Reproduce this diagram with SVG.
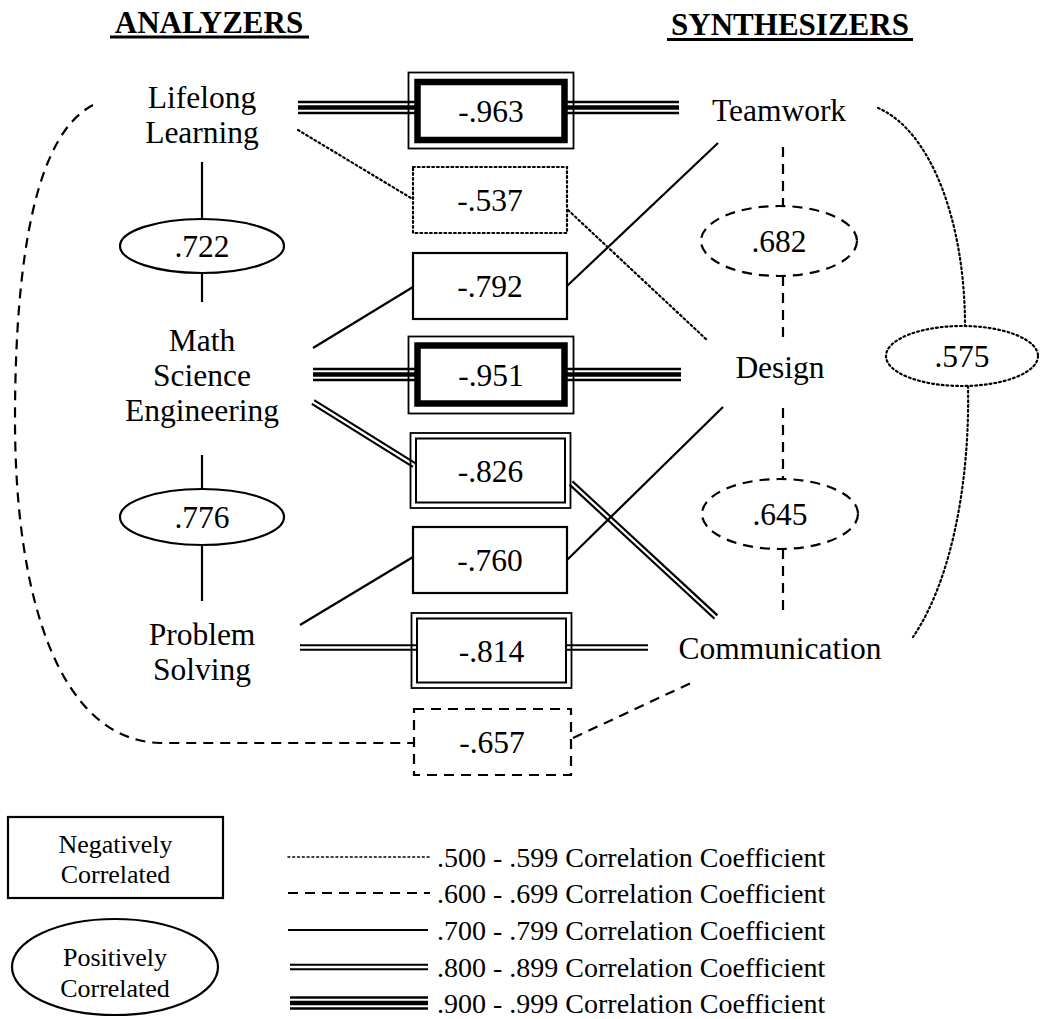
<svg xmlns="http://www.w3.org/2000/svg" width="1040" height="1019" viewBox="0 0 1040 1019">
<style>
text{font-family:"Liberation Serif","Times New Roman",serif;fill:#000}
.lab{font-size:31.5px;text-anchor:middle}
.hdr{font-size:31px;font-weight:bold;text-anchor:middle}
.leg{font-size:28px}
.legc{font-size:26px;text-anchor:middle}
.solid{stroke:#000;stroke-width:2.2;fill:none}
.dash{stroke:#000;stroke-width:2.2;fill:none;stroke-dasharray:10 7}
.dot{stroke:#000;stroke-width:2.2;fill:none;stroke-dasharray:1.8 3;stroke-linecap:round}
.thin{stroke:#000;stroke-width:2.5}
.thick{stroke:#000;stroke-width:4.5}
.dblB{stroke:#000;stroke-width:6.5;fill:none}
.dblW{stroke:#fff;stroke-width:2.3;fill:none}
.box{fill:#fff;stroke:#000;stroke-width:2.2}
.frame{fill:none;stroke:#000;stroke-width:1.8}
.heavy{fill:#fff;stroke:#000;stroke-width:6.5}
.dboxi{fill:#fff;stroke:#000;stroke-width:2}
.pos{fill:#fff;stroke:#000;stroke-width:2.2}
</style>

<g id="headers">
<text class="hdr" x="209" y="33">ANALYZERS</text>
<rect x="110" y="35.5" width="199" height="3"/>
<text class="hdr" x="790" y="35">SYNTHESIZERS</text>
<rect x="667" y="38" width="246" height="3"/>
</g>

<g id="connectors">
<line class="solid" x1="202" y1="162" x2="202" y2="219"/>
<line class="solid" x1="202" y1="273" x2="202" y2="302"/>
<line class="solid" x1="202" y1="455" x2="202" y2="489"/>
<line class="solid" x1="202" y1="545" x2="202" y2="601"/>
<line class="dash" x1="783" y1="147" x2="783" y2="206"/>
<line class="dash" x1="783" y1="276" x2="783" y2="342"/>
<line class="dash" x1="783" y1="408" x2="783" y2="479"/>
<line class="dash" x1="783" y1="549" x2="783" y2="617"/>
<path class="dot" d="M878,108 C930,130 965,220 965,326"/>
<path class="dot" d="M968,386 C970,480 952,580 913,637"/>
<line class="thin" x1="298" y1="102" x2="416" y2="102"/>
<line class="thick" x1="298" y1="107.5" x2="416" y2="107.5"/>
<line class="thin" x1="298" y1="113" x2="416" y2="113"/>
<line class="thin" x1="566" y1="102" x2="679" y2="102"/>
<line class="thick" x1="566" y1="107.5" x2="679" y2="107.5"/>
<line class="thin" x1="566" y1="113" x2="679" y2="113"/>
<line class="dot" x1="298" y1="130" x2="411" y2="198"/>
<line class="dot" x1="568" y1="210" x2="707" y2="340"/>
<line class="solid" x1="313" y1="348" x2="413" y2="287"/>
<line class="solid" x1="567" y1="286" x2="718" y2="143"/>
<line class="thin" x1="313" y1="369" x2="416" y2="369"/>
<line class="thick" x1="313" y1="374.5" x2="416" y2="374.5"/>
<line class="thin" x1="313" y1="380" x2="416" y2="380"/>
<line class="thin" x1="566" y1="369" x2="681" y2="369"/>
<line class="thick" x1="566" y1="374.5" x2="681" y2="374.5"/>
<line class="thin" x1="566" y1="380" x2="681" y2="380"/>
<line class="dblB" x1="313" y1="402" x2="414" y2="465"/>
<line class="dblW" x1="311" y1="400.8" x2="414" y2="465"/>
<line class="dblB" x1="571" y1="483" x2="716" y2="617"/>
<line class="dblW" x1="570" y1="482" x2="718" y2="619"/>
<line class="solid" x1="300" y1="625" x2="413" y2="557"/>
<line class="solid" x1="567" y1="560" x2="723" y2="407"/>
<line class="dblB" x1="300" y1="647.5" x2="416" y2="647.5"/>
<line class="dblW" x1="298" y1="647.5" x2="416" y2="647.5"/>
<line class="dblB" x1="567" y1="647.5" x2="648" y2="647.5"/>
<line class="dblW" x1="567" y1="647.5" x2="650" y2="647.5"/>
<path class="dash" d="M93,105 C35,135 15,260 15,420 C15,600 60,740 160,743 L414,743"/>
<line class="dash" x1="573" y1="738" x2="693" y2="682"/>
</g>

<g id="n-lifelong"><text class="lab" x="202" y="108">Lifelong</text><text class="lab" x="202" y="143">Learning</text></g>
<g id="n-mse"><text class="lab" x="202" y="351">Math</text><text class="lab" x="202" y="386">Science</text><text class="lab" x="202" y="421">Engineering</text></g>
<g id="n-problem"><text class="lab" x="202" y="645">Problem</text><text class="lab" x="202" y="680">Solving</text></g>
<g id="n-teamwork"><text class="lab" x="779" y="121">Teamwork</text></g>
<g id="n-design"><text class="lab" x="780" y="378">Design</text></g>
<g id="n-communication"><text class="lab" x="780" y="659">Communication</text></g>

<g id="p722"><ellipse class="pos" cx="202" cy="246" rx="82" ry="27"/><text class="lab" x="202" y="257">.722</text></g>
<g id="p776"><ellipse class="pos" cx="202" cy="517" rx="82" ry="28"/><text class="lab" x="202" y="528">.776</text></g>
<g id="p682"><ellipse class="pos dash" style="fill:#fff" cx="779" cy="241" rx="78" ry="35"/><text class="lab" x="779" y="252">.682</text></g>
<g id="p645"><ellipse class="pos dash" style="fill:#fff" cx="780" cy="514" rx="78" ry="35"/><text class="lab" x="780" y="525">.645</text></g>
<g id="p575"><ellipse class="pos dot" style="fill:#fff" cx="962" cy="356" rx="76" ry="30"/><text class="lab" x="962" y="367">.575</text></g>

<g id="n963"><rect class="frame" x="408.5" y="72.5" width="165" height="76"/><rect class="heavy" x="417.5" y="82" width="147" height="58"/><text class="lab" x="491" y="121.5">-.963</text></g>
<g id="n537"><rect class="box dot" style="fill:#fff" x="413" y="167" width="154" height="66"/><text class="lab" x="490" y="211">-.537</text></g>
<g id="n792"><rect class="box" x="413" y="253" width="154" height="66"/><text class="lab" x="490" y="297">-.792</text></g>
<g id="n951"><rect class="frame" x="408.5" y="336.5" width="165" height="77"/><rect class="heavy" x="417.5" y="345.5" width="147" height="58"/><text class="lab" x="491" y="386">-.951</text></g>
<g id="n826"><rect class="frame" x="410.5" y="433" width="160" height="75"/><rect class="dboxi" x="416" y="438.5" width="149" height="64"/><text class="lab" x="490.5" y="481.5">-.826</text></g>
<g id="n760"><rect class="box" x="413" y="527" width="154" height="66"/><text class="lab" x="490" y="571">-.760</text></g>
<g id="n814"><rect class="frame" x="411.5" y="613" width="160" height="75"/><rect class="dboxi" x="417" y="618.5" width="149" height="64"/><text class="lab" x="491.5" y="661.5">-.814</text></g>
<g id="n657"><rect class="box dash" style="fill:#fff" x="414" y="709" width="157" height="66"/><text class="lab" x="492" y="753">-.657</text></g>

<g id="legend">
<rect class="box" x="8" y="817" width="215" height="81"/>
<text class="legc" x="115.5" y="853">Negatively</text>
<text class="legc" x="115.5" y="883">Correlated</text>
<ellipse class="pos" cx="115" cy="967" rx="103" ry="48"/>
<text class="legc" x="115" y="966">Positively</text>
<text class="legc" x="115" y="997">Correlated</text>
<line class="dot" x1="288" y1="857" x2="430" y2="857" style="stroke-width:1.6"/>
<line class="dash" x1="288" y1="893" x2="430" y2="893"/>
<line class="solid" x1="288" y1="930" x2="428" y2="930"/>
<line class="dblB" x1="290" y1="967" x2="428" y2="967"/>
<line class="dblW" x1="288" y1="967" x2="430" y2="967"/>
<line class="thin" x1="290" y1="997.5" x2="428" y2="997.5"/>
<line class="thick" x1="290" y1="1003" x2="428" y2="1003"/>
<line class="thin" x1="290" y1="1008.5" x2="428" y2="1008.5"/>
<text class="leg" x="437" y="867">.500 - .599 Correlation Coefficient</text>
<text class="leg" x="437" y="903">.600 - .699 Correlation Coefficient</text>
<text class="leg" x="437" y="940">.700 - .799 Correlation Coefficient</text>
<text class="leg" x="437" y="977">.800 - .899 Correlation Coefficient</text>
<text class="leg" x="437" y="1013">.900 - .999 Correlation Coefficient</text>
</g>
</svg>
